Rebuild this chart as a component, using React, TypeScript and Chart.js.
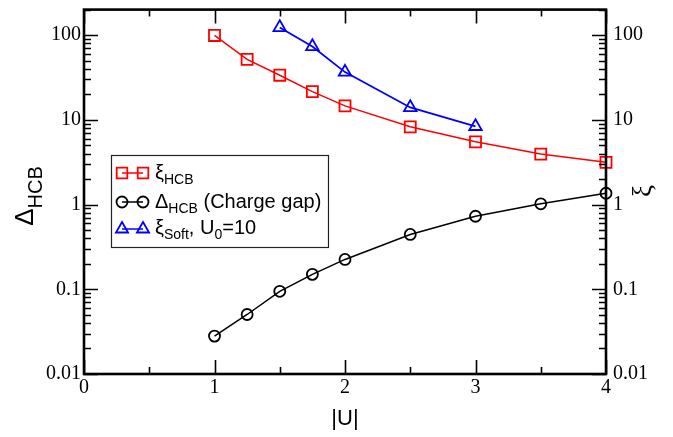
import React, { useEffect, useRef } from "react";
import { Chart, registerables } from "chart.js";

Chart.register(...registerables);

// ---- data ----
const uHCB = [1, 1.25, 1.5, 1.75, 2, 2.5, 3, 3.5, 4];
const xiHCB = [99, 51.8, 33.6, 21.5, 14.6, 8.27, 5.5, 3.94, 3.15];
const gapHCB = [0.028, 0.0504, 0.0946, 0.15, 0.225, 0.444, 0.728, 1.02, 1.36];
const uSoft = [1.5, 1.75, 2, 2.5, 3];
const xiSoft = [123, 73.5, 36.6, 14.0, 8.36];

const xTickValues = [0, 1, 2, 3, 4];
const xTickLabels = ["0", "1", "2", "3", "4"];
const yTickValues = [0.01, 0.1, 1, 10, 100];
const yTickLabels = ["0.01", "0.1", "1", "10", "100"];

const X_MIN = 0;
const X_MAX = 4;
const Y_MIN = 0.01;
const Y_MAX = 200;

const SERIF = '"Liberation Serif", "Times New Roman", serif';
const SANS = '"Liberation Sans", Arial, sans-serif';

type Part = { text: string; font: string; dy?: number };

function drawRich(ctx: CanvasRenderingContext2D, x: number, y: number, parts: Part[]) {
  let cx = x;
  for (const p of parts) {
    ctx.font = p.font;
    ctx.fillText(p.text, cx, y + (p.dy || 0));
    cx += ctx.measureText(p.text).width;
  }
  return cx - x;
}

function measureRich(ctx: CanvasRenderingContext2D, parts: Part[]) {
  let w = 0;
  for (const p of parts) {
    ctx.font = p.font;
    w += ctx.measureText(p.text).width;
  }
  return w;
}

function drawMarker(ctx: CanvasRenderingContext2D, style: string, x: number, y: number, r: number) {
  ctx.beginPath();
  if (style === "rect") {
    const s = r * Math.SQRT1_2;
    ctx.rect(x - s, y - s, 2 * s, 2 * s);
  } else if (style === "circle") {
    ctx.arc(x, y, r, 0, Math.PI * 2);
  } else {
    ctx.moveTo(x, y - r);
    ctx.lineTo(x + r * 0.866, y + r / 2);
    ctx.lineTo(x - r * 0.866, y + r / 2);
    ctx.closePath();
  }
  ctx.stroke();
}

const decorPlugin = {
  id: "decor",
  afterDraw(chart: any) {
    const ctx: CanvasRenderingContext2D = chart.ctx;
    const area = chart.chartArea;
    const xs = chart.scales.x;
    const ys = chart.scales.y;
    ctx.save();

    // tick marks (inward)
    ctx.strokeStyle = "#000";
    ctx.lineWidth = 1.6;
    ctx.beginPath();
    for (let v = X_MIN; v <= X_MAX + 1e-9; v += 0.5) {
      const px = Math.round(xs.getPixelForValue(v)) + 0.5;
      const len = Math.abs(v - Math.round(v)) < 1e-9 ? 14 : 7;
      ctx.moveTo(px, area.bottom);
      ctx.lineTo(px, area.bottom - len);
      ctx.moveTo(px, area.top);
      ctx.lineTo(px, area.top + len);
    }
    for (let d = -2; d <= 2; d++) {
      for (let m = 1; m <= 9; m++) {
        const v = m * Math.pow(10, d);
        if (v < Y_MIN * 0.999 || v > Y_MAX * 1.001) continue;
        const py = Math.round(ys.getPixelForValue(v)) + 0.5;
        const len = m === 1 ? 14 : 7;
        ctx.moveTo(area.left, py);
        ctx.lineTo(area.left + len, py);
        ctx.moveTo(area.right, py);
        ctx.lineTo(area.right - len, py);
      }
    }
    ctx.stroke();

    // frame
    ctx.lineWidth = 2.6;
    ctx.strokeRect(area.left, area.top, area.right - area.left, area.bottom - area.top);

    // axis titles
    ctx.fillStyle = "#000";
    ctx.textBaseline = "alphabetic";
    ctx.textAlign = "left";
    const xTitle: Part[] = [{ text: "|U|", font: `22px ${SANS}` }];
    const xw = measureRich(ctx, xTitle);
    drawRich(ctx, (area.left + area.right) / 2 - xw / 2, 425, xTitle);

    const yTitle: Part[] = [
      { text: "\u0394", font: `26px ${SANS}` },
      { text: "HCB", font: `20px ${SANS}`, dy: 9 },
    ];
    const yw = measureRich(ctx, yTitle);
    ctx.save();
    ctx.translate(33, 196 + yw / 2);
    ctx.rotate(-Math.PI / 2);
    drawRich(ctx, 0, 0, yTitle);
    ctx.restore();

    const y2Title: Part[] = [{ text: "\u03be", font: `27px ${SERIF}` }];
    const y2w = measureRich(ctx, y2Title);
    ctx.save();
    ctx.translate(651, 191 + y2w / 2);
    ctx.rotate(-Math.PI / 2);
    drawRich(ctx, 0, 0, y2Title);
    ctx.restore();

    // legend
    const bx = 111, by = 155, bw = 217, bh = 92;
    ctx.fillStyle = "#fff";
    ctx.fillRect(bx, by, bw, bh);
    ctx.strokeStyle = "#222";
    ctx.lineWidth = 1.2;
    ctx.strokeRect(bx + 0.5, by + 0.5, bw, bh);

    const rows = [
      {
        color: "#ff0000", style: "rect", r: 7.5, my: 173, base: 179,
        parts: [
          { text: "\u03be", font: `20px ${SANS}` },
          { text: "HCB", font: `14px ${SANS}`, dy: 5 },
        ],
      },
      {
        color: "#000000", style: "circle", r: 5.5, my: 202, base: 208,
        parts: [
          { text: "\u0394", font: `20px ${SANS}` },
          { text: "HCB", font: `14px ${SANS}`, dy: 5 },
          { text: " (Charge gap)", font: `20px ${SANS}` },
        ],
      },
      {
        color: "#0000ff", style: "triangle", r: 7, my: 229, base: 234,
        parts: [
          { text: "\u03be", font: `20px ${SANS}` },
          { text: "Soft", font: `14px ${SANS}`, dy: 5 },
          { text: ", U", font: `20px ${SANS}` },
          { text: "0", font: `14px ${SANS}`, dy: 5 },
          { text: "=10", font: `20px ${SANS}` },
        ],
      },
    ];
    for (const row of rows) {
      ctx.strokeStyle = row.color;
      ctx.lineWidth = 1.5;
      ctx.beginPath();
      ctx.moveTo(122, row.my);
      ctx.lineTo(143, row.my);
      ctx.stroke();
      ctx.lineWidth = 1.8;
      drawMarker(ctx, row.style, 122, row.my, row.r);
      drawMarker(ctx, row.style, 143, row.my, row.r);
      ctx.fillStyle = "#000";
      drawRich(ctx, 155, row.base, row.parts as Part[]);
    }

    ctx.restore();
  },
};

function makeYScale(position: "left" | "right", width: number, pad: number) {
  return {
    type: "logarithmic" as const,
    position,
    min: Y_MIN,
    max: Y_MAX,
    grid: { display: false, drawTicks: false },
    border: { display: false },
    afterBuildTicks: (s: any) => {
      s.ticks = yTickValues.map((v) => ({ value: v }));
    },
    afterFit: (s: any) => {
      s.width = width;
      s.paddingTop = 0;
      s.paddingBottom = 0;
    },
    ticks: {
      autoSkip: false,
      padding: pad,
      color: "#000",
      font: { family: SERIF, size: 20 },
      callback: (_v: any, i: number) => yTickLabels[i],
    },
  };
}

export default function App() {
  const ref = useRef<HTMLCanvasElement | null>(null);

  useEffect(() => {
    if (!ref.current) return;
    const common = {
      fill: false,
      tension: 0,
      clip: false,
      pointBackgroundColor: "rgba(0,0,0,0)",
      pointBorderWidth: 1.8,
      pointHoverRadius: 0,
    };
    const chart = new Chart(ref.current, {
      type: "line",
      data: {
        datasets: [
          {
            ...common,
            label: "xi_HCB",
            data: uHCB.map((u, i) => ({ x: u, y: xiHCB[i] })),
            borderColor: "#ff0000",
            pointBorderColor: "#ff0000",
            borderWidth: 1.5,
            pointStyle: "rect",
            pointRadius: 7.8,
          },
          {
            ...common,
            label: "Delta_HCB (Charge gap)",
            data: uHCB.map((u, i) => ({ x: u, y: gapHCB[i] })),
            borderColor: "#000000",
            pointBorderColor: "#000000",
            borderWidth: 1.5,
            pointStyle: "circle",
            pointRadius: 5.5,
          },
          {
            ...common,
            label: "xi_Soft, U0=10",
            data: uSoft.map((u, i) => ({ x: u, y: xiSoft[i] })),
            borderColor: "#0000ff",
            pointBorderColor: "#0000ff",
            borderWidth: 1.8,
            pointStyle: "triangle",
            pointRadius: 7.2,
          },
        ] as any,
      },
      options: {
        animation: false,
        responsive: false,
        events: [],
        layout: { padding: { top: 8, left: 0, right: 0, bottom: 0 } },
        plugins: { legend: { display: false }, tooltip: { enabled: false } },
        scales: {
          x: {
            type: "linear",
            position: "bottom",
            min: X_MIN,
            max: X_MAX,
            grid: { display: false, drawTicks: false },
            border: { display: false },
            afterBuildTicks: (s: any) => {
              s.ticks = xTickValues.map((v) => ({ value: v }));
            },
            afterFit: (s: any) => {
              s.height = 63;
              s.paddingLeft = 0;
              s.paddingRight = 0;
            },
            ticks: {
              autoSkip: false,
              maxRotation: 0,
              padding: 2,
              color: "#000",
              font: { family: SERIF, size: 20 },
              callback: (_v: any, i: number) => xTickLabels[i],
            },
          },
          y: makeYScale("left", 84, 3),
          y2: makeYScale("right", 67, 7),
        } as any,
      },
      plugins: [decorPlugin],
    });
    return () => chart.destroy();
  }, []);

  return (
    <div style={{ position: "absolute", left: 0, top: 0, width: 673, height: 437, background: "#fff" }}>
      <canvas ref={ref} width={673} height={437} style={{ display: "block" }} />
    </div>
  );
}
